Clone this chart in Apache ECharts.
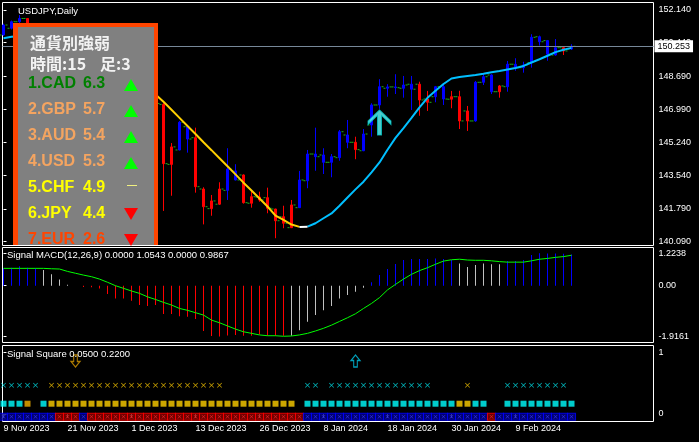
<!DOCTYPE html>
<html><head><meta charset="utf-8">
<script src="https://cdn.jsdelivr.net/npm/echarts@6/dist/echarts.min.js"></script>
<style>html,body{margin:0;padding:0;background:#000;}#c{width:699px;height:442px;}</style>
</head><body><div id="c"></div>
<script>
// ================= DATA =================
const chartTitle = 'USDJPY,Daily';
const macdTitle = 'Signal MACD(12,26,9) 0.0000 1.0543 0.0000 0.9867';
const squareTitle = 'Signal Square 0.0500 0.2200';
const tradingDays = [
  ['Nov', 2023, [9,10,13,14,15,16,17,20,21,22,23,24,27,28,29,30]],
  ['Dec', 2023, [1,4,5,6,7,8,11,12,13,14,15,18,19,20,21,22,26,27,28,29]],
  ['Jan', 2024, [2,3,4,5,8,9,10,11,12,15,16,17,18,19,22,23,24,25,26,29,30,31]],
  ['Feb', 2024, [1,2,5,6,7,8,9,12,13,14,15,16,19,20]]
];
const opens = [150.84,151.19,151.53,151.70,150.39,151.30,150.74,149.60,148.35,148.40,
  149.50,149.60,149.45,148.70,147.45,147.25,148.15,146.80,147.20,147.15,
  147.23,144.11,144.86,146.07,145.50,142.83,141.81,142.04,142.76,143.77,
  143.56,142.09,142.41,142.38,141.79,141.39,140.82,141.86,143.26,144.65,
  144.60,144.22,144.46,145.64,145.26,144.82,146.16,147.20,148.07,148.14,
  148.07,148.28,148.28,147.51,147.63,148.15,147.50,147.63,146.89,146.37,
  148.38,148.76,147.89,148.15,149.32,149.14,149.40,150.75,150.55,149.80,
  150.18,150.11];
const highs = [151.43,151.59,151.88,151.72,151.38,151.40,150.78,149.70,148.50,149.75,
  149.75,149.70,149.55,148.80,147.70,148.30,148.30,147.40,147.45,147.50,
  147.29,145.22,146.37,146.10,146.02,142.92,142.52,143.18,144.95,144.12,
  143.59,142.73,142.69,142.90,141.80,141.96,142.26,143.77,144.86,146.02,
  144.95,144.65,145.90,146.42,145.55,145.95,147.29,148.54,148.28,148.80,
  148.71,148.71,148.41,147.93,148.19,148.24,147.93,147.94,147.15,148.45,
  148.85,148.80,148.24,149.49,149.63,149.45,150.88,150.81,150.58,150.63,
  150.23,150.36];
const lows = [150.80,151.13,151.40,150.16,150.15,150.65,149.20,148.10,147.15,148.30,
  149.30,149.20,148.60,147.30,146.70,147.10,146.70,146.25,146.60,146.90,
  141.69,142.48,144.84,144.72,142.64,140.99,141.44,142.00,142.26,143.28,
  142.07,141.86,142.17,141.57,140.27,140.79,140.80,141.84,142.87,143.78,
  143.61,143.44,144.30,144.95,144.38,144.80,145.55,147.00,147.63,147.77,
  147.58,146.94,146.64,146.89,147.34,147.20,147.03,145.95,145.85,146.33,
  148.24,147.77,147.58,147.89,148.98,148.88,149.14,150.29,149.50,149.77,
  149.80,150.06];
const closes = [151.36,151.53,151.70,150.39,151.30,150.74,149.60,148.35,148.40,149.50,
  149.60,149.45,148.70,147.45,147.25,148.15,146.80,147.20,147.15,147.28,
  144.15,145.02,146.30,145.43,142.95,141.91,142.21,142.83,143.87,143.30,
  142.12,142.43,142.26,141.83,141.18,141.05,142.00,143.30,144.65,144.51,
  144.22,144.51,145.81,145.26,144.88,145.69,147.20,148.15,148.14,148.10,
  148.24,148.02,147.46,147.34,148.15,147.51,147.63,146.37,146.37,148.38,
  148.67,147.89,148.19,149.32,149.14,149.28,150.72,150.49,149.84,150.18,
  150.01,150.253];
// candle colour signal (b = up trend, r = down trend), as runs
const candleTrendRuns = [['b',3],['r',19],['b',2],['r',4],['b',2],['r',7],['b',7],['r',1],['b',7],
  ['r',2],['b',2],['r',3],['b',3],['r',1],['b',7],['r',1],['b',1]];
const trendLine = [150.67,150.75,150.78,150.73,150.62,150.47,150.30,150.11,149.91,149.71,
  149.52,149.34,149.16,148.97,148.78,148.59,148.40,148.20,147.98,147.75,
  147.37,146.95,146.53,146.11,145.69,145.26,144.85,144.43,144.01,143.59,
  143.16,142.75,142.34,141.92,141.45,141.22,140.98,140.86,140.87,141.05,
  141.31,141.56,141.96,142.39,142.81,143.21,143.70,144.21,144.87,145.49,
  146.00,146.53,147.08,147.57,147.94,148.29,148.58,148.65,148.71,148.76,
  148.82,148.90,148.97,149.05,149.12,149.23,149.41,149.58,149.76,149.95,
  150.07,150.17];
const lastPrice = 150.253;
const buyArrows = [[47, 146.29]];
const priceTicks = [140.09,141.79,143.54,145.24,146.99,148.69,150.44,152.14];
const macdHist = [0.655,0.68,0.73,0.68,0.655,0.59,0.43,0.23,0.04,0.0,
  -0.05,-0.06,-0.11,-0.31,-0.48,-0.48,-0.57,-0.73,-0.77,-0.73,
  -1.07,-1.07,-1.15,-1.17,-1.26,-1.71,-1.90,-1.9161,-1.88,-1.86,
  -1.89,-1.89,-1.84,-1.89,-1.89,-1.89,-1.89,-1.68,-1.36,-1.11,
  -0.93,-0.77,-0.48,-0.35,-0.23,-0.08,0.13,0.40,0.63,0.82,
  0.97,1.01,1.01,1.01,1.03,1.01,0.97,0.84,0.71,0.78,
  0.84,0.81,0.81,0.93,0.93,0.97,1.16,1.2238,1.22,1.22,
  1.21,1.18];
const macdSignal = [0.655,0.655,0.655,0.655,0.655,0.655,0.64,0.63,0.54,0.47,
  0.40,0.34,0.25,0.13,0.0,-0.10,-0.20,-0.29,-0.42,-0.52,
  -0.63,-0.73,-0.86,-0.93,-1.02,-1.11,-1.30,-1.40,-1.52,-1.64,
  -1.74,-1.80,-1.86,-1.89,-1.89,-1.91,-1.90,-1.86,-1.80,-1.71,
  -1.61,-1.49,-1.35,-1.21,-1.06,-0.86,-0.67,-0.45,-0.16,0.05,
  0.25,0.43,0.57,0.68,0.81,0.93,0.98,1.0,0.97,0.96,
  0.96,0.94,0.91,0.89,0.89,0.89,0.94,1.0,1.03,1.07,
  1.10,1.15];
const macdStateRuns = [['b',5],['g',5],['r',26],['g',10],['b',11],['g',6],['b',9]];
const macdTicks = [-1.9161, 0, 1.2238];
// Signal Square rows
const starRuns = [['c',5],['.',1],['y',22],['.',10],['c',2],['.',1],['c',13],['.',4],['y',1],['.',4],['c',8],['.',1]];
const squareRuns = [['c',3],['o',1],['.',1],['c',1],['y',31],['.',1],['c',19],['y',2],['c',2],['.',2],['c',9]];
const boxRuns = [['b',7],['r',3],['b',1],['r',27],['b',23],['r',1],['b',10]];
const starLevel = 0.468, squareLevel = 0.168, boxLevel = -0.044, arrowLevel = 0.865;
const sellSignals = [9];
const buySignals = [44];
const squareTicks = [0, 1];
// currency strength panel
const panelTitle = '通貨別強弱';
const panelTimeframe = 15, panelBars = 3;
const currencies = ['CAD','GBP','AUD','USD','CHF','JPY','EUR'];
const strengths = [6.3, 5.7, 5.4, 5.3, 4.9, 4.4, 2.6];
const strengthTrend = ['up','up','up','up','flat','down','down'];

// ================= BUILD =================
const FONT = '"Liberation Sans", Arial, sans-serif';
const expand = runs => runs.flatMap(([c, n]) => Array(n).fill(c));
const dateLabels = tradingDays.flatMap(([m, y, days]) => days.map(d => d + ' ' + m + ' ' + y));
const dateTicks = dateLabels.map((_, i) => i).filter(i => i % 8 === 0);
const candleTrend = expand(candleTrendRuns);
const macdState = expand(macdStateRuns);

const X_MIN = -0.125, X_MAX = 81.25;
const xAx = (g, show) => ({
  type: 'value', gridIndex: g, min: X_MIN, max: X_MAX, show: !!show,
  axisLine: {show: false}, splitLine: {show: false},
  axisTick: {show: !!show, customValues: dateTicks, length: 4, lineStyle: {color: '#fff'}},
  axisLabel: {show: !!show, customValues: dateTicks, formatter: v => dateLabels[v] || '',
    align: 'left', margin: 3, color: '#fff', fontSize: 9, fontFamily: FONT}
});
const yAx = (g, min, max, ticks, fmt) => ({
  type: 'value', gridIndex: g, position: 'right', min, max,
  axisLine: {show: false}, splitLine: {show: false},
  axisTick: {show: true, customValues: ticks, length: 3, lineStyle: {color: '#fff'}},
  axisLabel: {customValues: ticks, formatter: fmt, color: '#fff', fontSize: 9, fontFamily: FONT, margin: 5}
});

const candles = (state, color) => ({
  type: 'candlestick', xAxisIndex: 0, yAxisIndex: 0, barWidth: 2, z: 2,
  data: opens.map((o, i) => candleTrend[i] === state ? [i, o, closes[i], lows[i], highs[i]] : null).filter(Boolean),
  itemStyle: {color, color0: color, borderColor: color, borderColor0: color, borderWidth: 1}
});

// trend line split in coloured segments
const segColor = k => {
  const d = trendLine[k + 1] - trendLine[k];
  return Math.abs(d) < 0.03 ? 'flat' : (d > 0 ? 'up' : 'down');
};
const segLine = (kind, color) => ({
  type: 'line', xAxisIndex: 0, yAxisIndex: 0, symbol: 'none', z: 3, silent: true,
  lineStyle: {color, width: 2},
  data: trendLine.map((v, i) => {
    const on = (i > 0 && segColor(i - 1) === kind) || (i < trendLine.length - 1 && segColor(i) === kind);
    return [i, on ? v : '-'];
  })
});

const X_PATH = 'path://M0,1L1,0L5,4L9,0L10,1L6,5L10,9L9,10L5,6L1,10L0,9L4,5Z';
const UP_PATH = 'path://M5,0L10,6L7,6L7,13L3,13L3,6L0,6Z';
const DOWN_PATH = 'path://M3,0L7,0L7,7L10,7L5,13L0,7L3,7Z';
const BIG_UP = 'path://M11.5,0L23,11L23,14.5L13.5,5.5L13.5,25L9.5,25L9.5,5.5L0,14.5L0,11Z';

const starColors = {c: '#00E8F0', y: '#FFCC00'};
const squareColors = {c: '#00FFFF', y: '#FFD000', o: '#F0B000'};
const boxStyles = {
  b: {fill: '#00008C', border: '#0000FF', x: '#3A3AFF'},
  r: {fill: '#8C0000', border: '#FF0000', x: '#FF2A2A'}
};
const macdColors = {b: '#0000FF', g: '#C0C0C0', r: '#FF0000'};

const rowScatter = (runs, level, styler, extra) => Object.assign({
  type: 'scatter', xAxisIndex: 2, yAxisIndex: 2, silent: true, z: 3,
  data: expand(runs).map((s, i) => s === '.' ? null : {value: [i, level], itemStyle: styler(s)}).filter(Boolean)
}, extra);

// MACD histogram: 1px columns from the zero line, through the axis scales
const macdBars = {
  type: 'custom', xAxisIndex: 1, yAxisIndex: 1, silent: true, z: 2,
  encode: {x: 0, y: 1},
  data: macdHist.map((v, i) => [i, v]),
  renderItem: (params, api) => {
    const i = api.value(0), v = api.value(1);
    const a = api.coord([i, 0]), b = api.coord([i, v]);
    return {
      type: 'rect',
      shape: {x: Math.floor(a[0]), y: Math.min(a[1], b[1]), width: 1, height: Math.abs(b[1] - a[1])},
      style: {fill: macdColors[macdState[i]]}
    };
  }
};

// currency panel graphic
const rowY = k => 84 + 26 * k;
const rankColor = k => k === 0 ? '#008000' : (k < 4 ? '#F4A460' : (k < 6 ? '#FFFF00' : '#FF4500'));
const CJK = 'bold 16px "Noto Sans CJK JP"';
const panel = [
  {type: 'rect', z: 100, shape: {x: 13, y: 23, width: 145, height: 222}, style: {fill: '#FF4500'}},
  {type: 'rect', z: 101, shape: {x: 18, y: 27, width: 136, height: 218}, style: {fill: '#808080'}},
  {type: 'text', z: 102, x: 30, y: 43, style: {text: panelTitle, fill: '#F2F2F2', font: CJK, verticalAlign: 'middle'}},
  {type: 'text', z: 102, x: 30, y: 64, style: {text: '時間:' + panelTimeframe, fill: '#F2F2F2', font: CJK, verticalAlign: 'middle'}},
  {type: 'text', z: 102, x: 100, y: 64, style: {text: '足:' + panelBars, fill: '#F2F2F2', font: CJK, verticalAlign: 'middle'}}
];
currencies.forEach((c, k) => {
  const y = rowY(k);
  const col = rankColor(k);
  panel.push({type: 'text', z: 102, x: 28, y, style: {text: (k + 1) + '.' + c, fill: col, font: 'bold 16px ' + FONT, verticalAlign: 'middle'}});
  panel.push({type: 'text', z: 102, x: 83, y, style: {text: strengths[k].toFixed(1), fill: col, font: 'bold 16px ' + FONT, verticalAlign: 'middle'}});
  const t = strengthTrend[k];
  if (t === 'up') panel.push({type: 'polygon', z: 102, shape: {points: [[124, y + 7], [138, y + 7], [131, y - 5]]}, style: {fill: '#00FF00'}});
  else if (t === 'down') panel.push({type: 'polygon', z: 102, shape: {points: [[124, y - 6], [138, y - 6], [131, y + 6]]}, style: {fill: '#FF0000'}});
  else panel.push({type: 'line', z: 102, shape: {x1: 127, y1: y - 2.5, x2: 137, y2: y - 2.5}, style: {stroke: '#F0F080', lineWidth: 1}});
});
const titles = [
  {type: 'text', z: 110, x: 18, y: 11, style: {text: chartTitle, fill: '#fff', font: '9.5px ' + FONT, verticalAlign: 'middle'}},
  {type: 'text', z: 110, x: 7, y: 255.5, style: {text: macdTitle, fill: '#fff', font: '9.5px ' + FONT, verticalAlign: 'middle'}},
  {type: 'text', z: 110, x: 7, y: 354.5, style: {text: squareTitle, fill: '#fff', font: '9.5px ' + FONT, verticalAlign: 'middle'}}
];

const gridStyle = {show: true, borderColor: '#fff', borderWidth: 1, backgroundColor: 'transparent'};
const option = {
  backgroundColor: '#000',
  animation: false,
  grid: [
    Object.assign({left: 2.5, top: 2.5, width: 651, height: 243}, gridStyle),
    Object.assign({left: 2.5, top: 247.5, width: 651, height: 95}, gridStyle),
    Object.assign({left: 2.5, top: 345.5, width: 651, height: 76}, gridStyle)
  ],
  xAxis: [xAx(0, false), xAx(1, false), xAx(2, true)],
  yAxis: [
    yAx(0, 139.892, 152.530, priceTicks, v => v.toFixed(3)),
    yAx(1, -2.146, 1.443, macdTicks, v => v === 0 ? '0.00' : v.toFixed(4)),
    yAx(2, -0.1223, 1.1175, squareTicks, v => String(v))
  ],
  graphic: panel.concat(titles),
  series: [
    Object.assign(candles('b', '#0000FF'), {
      markLine: {
        silent: true, symbol: 'none', animation: false,
        data: [{yAxis: lastPrice}],
        lineStyle: {color: '#778899', width: 1, type: 'solid'},
        label: {show: true, position: 'end', distance: 1, formatter: lastPrice.toFixed(3),
          backgroundColor: '#fff', color: '#000', padding: [2, 3, 1, 3], fontSize: 9, fontFamily: FONT}
      }
    }),
    candles('r', '#FF0000'),
    {type: 'scatter', xAxisIndex: 0, yAxisIndex: 0, silent: true, z: 2, symbol: 'rect', symbolSize: [2, 1], symbolOffset: [-3, 0],
      itemStyle: {color: '#22DD22'}, data: opens.map((v, i) => [i, v])},
    {type: 'scatter', xAxisIndex: 0, yAxisIndex: 0, silent: true, z: 2, symbol: 'rect', symbolSize: [2, 1], symbolOffset: [3, 0],
      itemStyle: {color: '#22DD22'}, data: closes.map((v, i) => [i, v])},
    segLine('down', '#FFD000'),
    segLine('up', '#00BFFF'),
    segLine('flat', '#FFFFFF'),
    {type: 'scatter', xAxisIndex: 0, yAxisIndex: 0, silent: true, z: 4, symbol: BIG_UP, symbolSize: [23, 25],
      itemStyle: {color: '#60FFFF', borderColor: '#00C8C8', borderWidth: 1}, data: buyArrows},
    macdBars,
    {type: 'line', xAxisIndex: 1, yAxisIndex: 1, symbol: 'none', silent: true, z: 3,
      lineStyle: {color: '#00FF00', width: 1}, data: macdSignal.map((v, i) => [i, v])},
    rowScatter(starRuns, starLevel, s => ({color: starColors[s]}), {symbol: X_PATH, symbolSize: 5}),
    rowScatter(squareRuns, squareLevel, s => ({color: squareColors[s]}), {symbol: 'rect', symbolSize: 6}),
    rowScatter(boxRuns, boxLevel, s => ({color: boxStyles[s].fill, borderColor: boxStyles[s].border, borderWidth: 1}), {symbol: 'rect', symbolSize: [8, 7]}),
    rowScatter(boxRuns, boxLevel, s => ({color: boxStyles[s].x}), {symbol: X_PATH, symbolSize: 4, z: 4}),
    {type: 'scatter', xAxisIndex: 2, yAxisIndex: 2, silent: true, z: 4, symbol: DOWN_PATH, symbolSize: [9, 12],
      itemStyle: {color: '#000', borderColor: '#D89A00', borderWidth: 1.2}, data: sellSignals.map(i => [i, arrowLevel])},
    {type: 'scatter', xAxisIndex: 2, yAxisIndex: 2, silent: true, z: 4, symbol: UP_PATH, symbolSize: [9, 12],
      itemStyle: {color: '#000', borderColor: '#00C8E8', borderWidth: 1.2}, data: buySignals.map(i => [i, arrowLevel])}
  ]
};
const chart = echarts.init(document.getElementById('c'), null, {renderer: 'canvas'});
chart.setOption(option);
</script>
</body></html>
